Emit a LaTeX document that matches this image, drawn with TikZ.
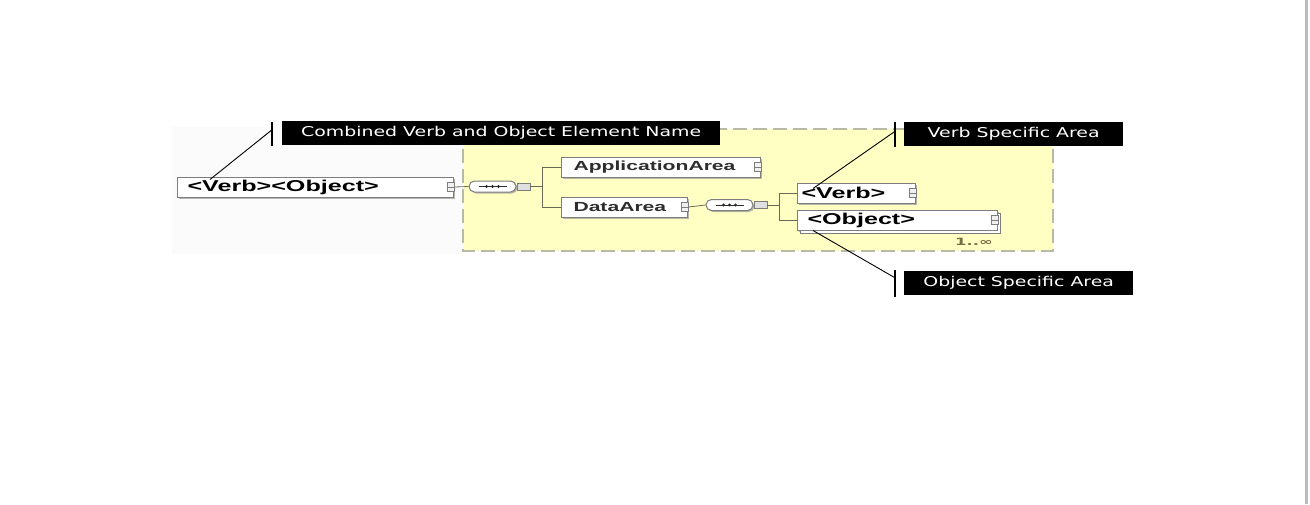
\documentclass[tikz,border=0pt]{standalone}
\usepackage{fontspec}
\usetikzlibrary{calc,shadows}
\newfontfamily\calloutfont[FakeStretch=1.4]{DejaVu Sans}
\newfontfamily\schemafont[FakeStretch=1.6]{Liberation Sans}
\newfontfamily\occursfont[FakeStretch=1.65]{DejaVu Sans}
\definecolor{schemayellow}{RGB}{255,255,196}
\definecolor{schemadash}{RGB}{185,185,165}
\definecolor{schemaline}{RGB}{105,105,85}
\definecolor{schemaborder}{RGB}{125,125,125}
\definecolor{schematext}{RGB}{45,45,45}
\definecolor{occurscol}{RGB}{120,110,70}
\definecolor{pagerule}{RGB}{187,187,187}
\tikzset{
  element/.style={draw=schemaborder, line width=1pt, fill=white, rectangle, minimum height=20pt,
    inner ysep=0pt, anchor=west, align=left, text=black,
    font=\schemafont\bfseries\fontsize{15.7}{18}\selectfont,
    drop shadow={shadow xshift=1.5pt, shadow yshift=-1.5pt, fill=gray!80, opacity=.7}},
  area/.style={element, text=schematext, font=\schemafont\bfseries\fontsize{13.2}{16}\selectfont},
  expander/.style={draw=schemaborder, fill=gray!12, minimum width=7pt, minimum height=9pt, inner sep=0pt},
  seq/.style={draw=schemaborder, line width=1pt, fill=white, rounded corners=5.5pt, minimum width=47pt,
    minimum height=11pt, inner sep=0pt,
    drop shadow={shadow xshift=1.5pt, shadow yshift=-1.5pt, fill=gray!80, opacity=.7}},
  seqtab/.style={draw=schemaborder, fill=gray!25, minimum width=13pt, minimum height=7pt, inner sep=0pt, anchor=west},
  link/.style={draw=schemaline, line width=.8pt},
  callout/.style={fill=black, text=white, font=\calloutfont\fontsize{13.5}{16}\selectfont,
    minimum height=24pt, inner sep=0pt, anchor=west},
  tick/.style={draw=black, line width=2pt},
  leader/.style={draw=black, line width=.9pt},
  occurs/.style={text=occurscol, inner sep=0pt, font=\occursfont\bfseries\fontsize{10}{12}\selectfont}
}
\begin{document}
\begin{tikzpicture}[x=1pt,y=-1pt]
\useasboundingbox (0,0) rectangle (1310,504);
\fill[pagerule] (1305,0) rectangle (1307.5,504);
% backdrop and content area
\fill[gray!3] (172,127) rectangle (463,254);
\filldraw[fill=schemayellow, draw=schemadash, line width=1.6pt, dash pattern=on 14pt off 6pt]
  (463,129) rectangle (1053,251);
% callouts
\node[callout, minimum width=438pt] (combinedLabel) at (282,133) {Combined Verb and Object Element Name};
\node[callout, minimum width=219pt] (verbLabel) at (904,133.5) {Verb Specific Area};
\node[callout, minimum width=229pt] (objectLabel) at (904,283) {Object Specific Area};
% elements
\node[element, text width=256pt, inner xsep=10pt] (vo) at (177,187) {<Verb><Object>};
\node[area, text width=175pt, inner xsep=12pt] (appArea) at (561,167) {ApplicationArea};
\node[area, text width=102pt, inner xsep=12pt] (dataArea) at (561,207) {DataArea};
\node[element, text width=110pt, inner xsep=4pt] (verb) at (797,193) {<Verb>};
\node[element, text width=180pt, inner xsep=10pt,
  copy shadow={shadow xshift=3pt, shadow yshift=-3pt, draw=schemaborder, fill=white}] (object) at (797,220) {<Object>};
\node[occurs] (objectOccurs) at (974,242) {1..∞};
\foreach \n in {vo,appArea,dataArea,verb,object}{
  \node[expander] (\n-x) at ($(\n.east)+(-3,0)$) {};
  \draw[schemaborder] (\n-x.west) -- (\n-x.east);
}
% compositors
\node[seq] (seq1) at (492.5,186.5) {};
\node[seqtab] (seq1tab) at (seq1.east) {};
\node[seq] (seq2) at (729.5,205) {};
\node[seqtab] (seq2tab) at (seq2.east) {};
\foreach \s in {seq1,seq2}{
  \draw[schematext, line width=.8pt] ($(\s.west)+(10,0)$) -- ($(\s.east)+(-10,0)$);
  \foreach \dx in {-6,0,6}
    \fill[schematext] ($(\s.center)+(\dx,0)$) circle (1.6pt);
}
% connectors
\draw[link] (vo-x.east) -- (seq1.west);
\draw[link] (seq1tab.east) -- ++(12,0) coordinate (fork1);
\draw[link] (appArea.west) -| (fork1) |- (dataArea.west);
\draw[link] (dataArea-x.east) -- (seq2.west);
\draw[link] (seq2tab.east) -- ++(12,0) coordinate (fork2);
\draw[link] (verb.west) -| (fork2) |- (object.west);
% ticks and leaders
\draw[tick] ($(combinedLabel.north west)+(-10,1)$) coordinate (combinedTick) -- ($(combinedLabel.south west)+(-10,1)$);
\draw[tick] ($(verbLabel.north west)+(-9,1)$) coordinate (verbTick) -- ($(verbLabel.south west)+(-9,1)$);
\draw[tick] ($(objectLabel.north west)+(-9,-1)$) coordinate (objectTick) -- ($(objectLabel.south west)+(-9,2)$);
\draw[leader] ($(combinedTick)+(0,8)$) -- ($(vo.north west)+(33,3)$);
\draw[leader] ($(verbTick)+(0,9)$) -- ($(verb.north west)+(16,6)$);
\draw[leader] ($(objectTick)+(0,8)$) -- ($(object.south west)+(16,0)$);
\end{tikzpicture}
\end{document}
